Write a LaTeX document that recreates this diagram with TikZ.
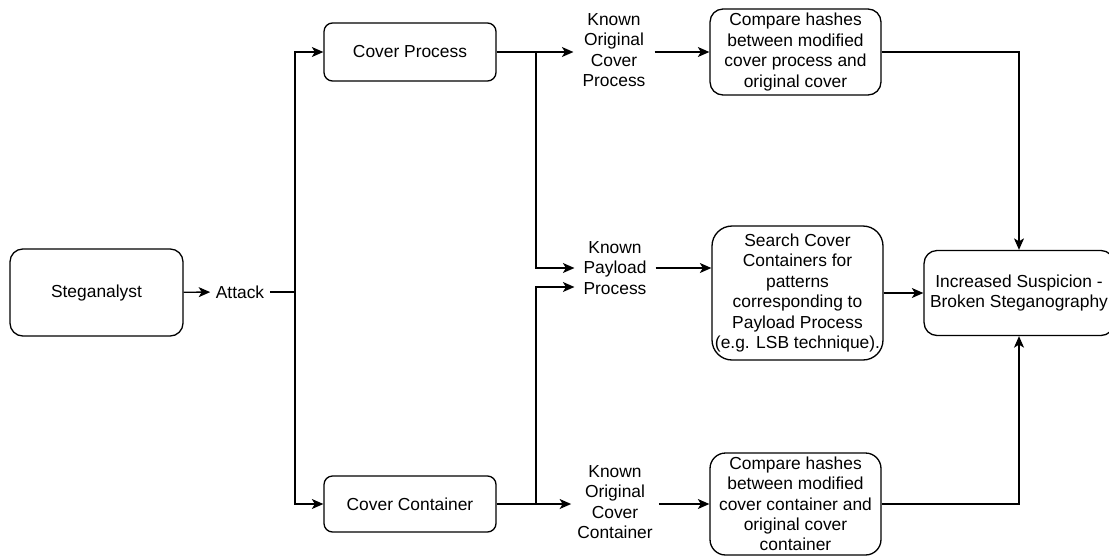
\documentclass[tikz,border=0pt]{standalone}
\usepackage{fontspec}
\setmainfont{Liberation Sans}
\usetikzlibrary{arrows.meta}

\begin{document}
\begin{tikzpicture}[
  x=0.02cm, y=-0.02cm,
  line width=0.75pt,
  >={Stealth[length=0.23cm, width=0.2cm, inset=0.06cm]},
  every node/.style={
    align=center,
    inner sep=1pt,
    font=\fontsize{9.9}{11.6}\selectfont
  },
  box/.style={draw, rectangle, minimum width=3.44cm},
  lbl/.style={inner xsep=0.17cm}
]
\useasboundingbox (0,0) rectangle (1109,555);

\node (stega) [box, rounded corners=0.255cm, minimum width=3.46cm, minimum height=1.74cm] at (96.5,292.5) {Steganalyst};
\node (attack) [inner xsep=0.1cm] at (240,292) {Attack};
\coordinate (split) at (295,292);

\node (cproc) [box, rounded corners=0.17cm, minimum height=1.16cm] at (410,52) {Cover Process};
\node (ccont) [box, rounded corners=0.17cm, minimum height=1.12cm] at (410,504) {Cover Container};

\node (known1) [lbl] at (614,50) {Known\\Original\\Cover\\Process};
\node (payload) [lbl] at (615,268) {Known\\Payload\\Process};
\node (known3) [lbl, inner xsep=0.11cm] at (615,502) {Known\\Original\\Cover\\Container};
\coordinate (jtop) at (536,52);
\coordinate (jbot) at (536,504);

\node (cmp1) [box, rounded corners=0.26cm, minimum width=3.42cm, minimum height=1.72cm] at (795.5,52)
{Compare hashes\\between modified\\cover process and\\original cover};
\node (search) [box, rounded corners=0.4cm, minimum width=3.42cm, minimum height=2.68cm] at (797.5,293)
{Search Cover\\Containers for\\patterns\\corresponding to\\Payload Process\\(e.g. LSB technique).};
\node (cmp2) [box, rounded corners=0.31cm, minimum width=3.42cm, minimum height=2.04cm, inner ysep=0pt] at (795.5,504)
{Compare hashes\\between modified\\cover container and\\original cover\\container};

\node (inc) [box, rounded corners=0.26cm, minimum width=3.8cm, minimum height=1.7cm] at (1019,293)
{Increased Suspicion -\\Broken Steganography};

% attack splits into the two branches
\draw[->] (stega) -- (attack);
\draw (attack) -- (split);
\draw[->] (split) |- (cproc);
\draw[->] (split) |- (ccont);

% what is known from each branch
\draw[->] (cproc) -- (cproc -| known1.west);
\draw[->] (ccont) -- (ccont -| known3.west);
\draw[->] (jtop) |- (payload.west);
\draw[->] (jbot) |- ([yshift=-0.38cm]payload.west);

\draw[->] (known1.east |- cmp1) -- (cmp1);
\draw[->] (payload) -- (payload -| search.west);
\draw[->] (known3.east |- cmp2) -- (cmp2);

% all checks lead to the result
\draw[->] (search) -- (inc);
\draw[->] (cmp1) -| (inc);
\draw[->] (cmp2) -| (inc);

\end{tikzpicture}
\end{document}
